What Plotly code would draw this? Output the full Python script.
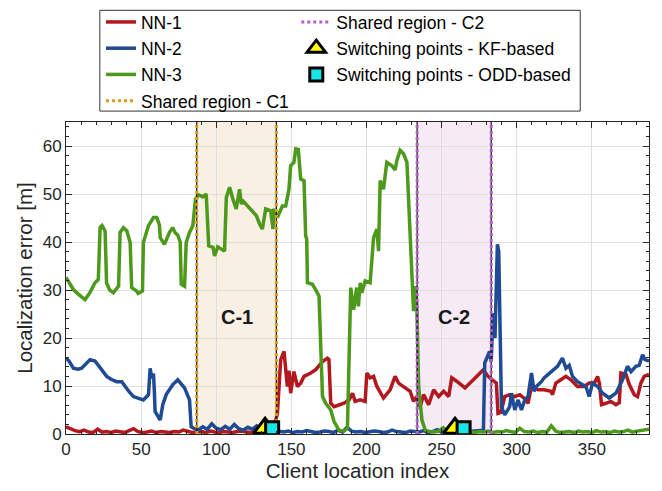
import plotly.graph_objects as go

# ---- data ----
# NN-1 (red): low noise up to index ~135, then rises after C1
nn1_low_x = list(range(0, 138, 3))
nn1_low_y = [1.5, 1.1, 0.7, 0.5, 0.8, 0.4, 0.3, 1.0, 0.4, 0.5,
             0.3, 0.6, 0.4, 0.3, 0.7, 1.1, 0.5, 0.3, 0.4, 0.6,
             0.3, 0.5, 0.4, 0.3, 0.5, 0.4, 0.8, 0.5, 0.3, 0.4,
             0.5, 0.3, 0.6, 0.4, 0.3, 0.5, 0.4, 0.3, 0.5, 0.6,
             0.4, 0.3, 0.5, 0.4, 0.6, 0.7]
nn1_hi_x = [138, 140.7, 142.9, 145.1, 147.3, 148.4, 149.5, 151.7, 154, 156.2,
            158.4, 162.9, 166.2, 170.7, 174, 175, 176.2, 178.4, 181.7, 185,
            188.4, 190.7, 192.4, 195.8, 199.1, 200.2, 202.4, 204.7, 206.9, 211.3,
            215.7, 219, 221.3, 225.7, 229, 231.3, 233.5, 235.7, 238, 241.3,
            244.7, 248, 251.3, 254.7, 256.7, 260, 265.5, 271.1, 277.8, 280.9,
            283.1, 286.4, 287.5, 289.5, 292, 295.3, 298.7, 302, 305, 307.5,
            309.8, 314.2, 318.2, 322.7, 323.8, 326, 329.3, 332.7, 336, 340.4,
            344.9, 348.2, 351.6, 353.8, 355, 356.4, 359.3, 362.6, 366, 368.2,
            369.3, 372.7, 374.9, 378.2, 380.4, 382.6, 384.8, 388]
nn1_hi_y = [0.8, 4.3, 15.5, 17.2, 9.9, 13.2, 8.5, 13, 9.9, 10.6,
            12, 12.7, 13.4, 15.1, 15.8, 15.5, 6.4, 5.7, 6.1, 6.4,
            7.1, 8.5, 6.8, 7.1, 6.8, 12.7, 11.7, 12.0, 9.9, 7.5,
            9.2, 12, 10.6, 9.6, 8.9, 6.8, 7.8, 5.7, 8.2, 6.1,
            9.2, 7.8, 8.9, 7.8, 11.7, 11, 9.6, 11.3, 13.4, 12,
            11.5, 10.6, 4.3, 4.5, 7.8, 8.2, 7.8, 8.2, 7.4, 6.4,
            9.9, 9.2, 9.2, 8.9, 8.2, 10.6, 11.3, 12, 11.3, 9.9,
            9.9, 10.6, 10.6, 12, 10.5, 6.1, 6.4, 6.8, 6.1, 6.5,
            12.7, 12.4, 10.3, 8.2, 7.8, 10.6, 12, 12.4]

# NN-2 (blue)
nn2_a_x = [0, 2, 4.9, 8, 10.4, 13, 16, 19.3, 23, 27.1,
           30, 33.7, 37.1, 39.3, 42, 44.9, 48.2, 51.5, 54.9, 56,
           57.1, 58.2, 58.8, 59.3, 62.7, 64.4, 66.7, 71.1, 74.4, 78.9,
           82.2, 83.3]
nn2_a_y = [15.8, 15.2, 13.7, 13.5, 13.7, 14.6, 15.5, 15.2, 13.8, 12,
           11.4, 10.9, 10.9, 9.9, 8.8, 7.8, 7.5, 7.1, 8.2, 13.7,
           11.6, 12.6, 9, 4.7, 2.9, 6.1, 8.2, 10.3, 11.3, 9.6,
           7.1, 1.5]
nn2_low_x = list(range(85, 277, 3))
nn2_low_y = [1.2, 0.8, 1.5, 1.0, 2.1, 1.2, 0.9, 1.6, 1.0, 2.0,
             1.1, 0.8, 1.4, 1.0, 1.7, 1.1, 0.9, 1.3, 0.7,
             0.5, 0.4, 0.6, 0.3, 0.5, 0.4, 0.7, 0.5, 0.3, 0.4,
             0.6, 0.5, 0.3, 0.8, 0.4, 1.4, 0.6, 0.4, 0.5, 0.3,
             0.4, 0.6, 0.5, 0.3, 0.4, 0.8, 0.5, 0.4, 0.3, 0.6,
             0.5, 0.4, 0.7, 0.3, 0.5, 0.9, 0.4, 0.6, 0.3, 0.5,
             0.4, 0.7, 0.5, 0.6, 0.8]
nn2_b_x = [277.8, 278.7, 281.9, 283, 284.2, 285.5, 287.1, 288, 289, 289.8,
           292, 295.3, 296.4, 298.7, 300.9, 303.1, 305.3, 307.5, 309.8, 311.5,
           313, 316.4, 318.2, 322.7, 327.1, 330.4, 332.7, 334.9, 337.1, 340.4,
           343.8, 346, 348.2, 350.4, 353.8, 357.1, 361.5, 366, 370.4, 373.7,
           376, 379.3, 381.5, 383.7, 385.3, 388]
nn2_b_y = [0.8, 14.8, 17.2, 15, 25.2, 20, 39.5, 38, 23.8, 5.7,
           4, 5.7, 8.5, 5.0, 7.1, 5, 7.1, 7.8, 12.7, 8.9,
           9.9, 10.9, 11.7, 13, 14.1, 15.8, 13.7, 14.3, 12, 10.9,
           10.3, 9.9, 7.8, 10.6, 9.9, 8.5, 7.5, 8.5, 11.3, 14.1,
           13, 14.1, 14.3, 16.5, 15.5, 15.2]

# NN-3 (green)
nn3_a_x = [0, 4.9, 8, 12.7, 16, 19.3, 21.5, 22.7, 24, 26,
           27, 29, 31.5, 35, 36, 38.2, 40.5, 42.7, 43.7, 47,
           48, 50.9, 51.5, 54.9, 58.2, 60.4, 62.2, 62.7, 65.5, 68.9,
           71, 72.5, 74.4, 76, 76.7, 78.9, 80, 82.2, 84.4, 86.2,
           88.4, 91, 93.3, 95, 97.8, 98.9, 101, 105.5, 106.7, 108.9,
           111, 113.3, 115.5, 116.7, 118, 123.3, 126.7, 128.9, 130.7, 132.9,
           136.2, 137.8, 138.2, 140.7, 144, 146.2, 148.4, 149.5, 151.7, 152.9,
           154.6, 156.2, 158.4, 159.5, 160.2, 160.7, 164, 167.3, 168.4, 170.7,
           172.9, 176.2, 178.4, 181.7, 185, 187.3, 189.5, 191.4, 193.5, 194.6,
           195.8, 196.9, 199.1, 202.4, 204.7, 206.9, 208, 209.1, 211.3, 213.5,
           216.9, 219, 220.2, 222.4, 224.6, 226.9, 230.2, 231.3, 232.5, 233.5,
           234.7, 236.9, 239.1]
nn3_a_y = [32.6, 30.1, 29.2, 28, 29.5, 31.5, 32.2, 43, 43.4, 42.3,
           31.5, 30, 29.4, 30.8, 42, 43, 42.3, 39.9, 30.5, 29.8,
           29.3, 29.8, 39.9, 43.4, 45.1, 45.1, 43.5, 40.9, 39.5, 42,
           43, 42, 41.4, 40, 31.2, 30.8, 39.9, 42, 43.4, 49,
           49.8, 49.4, 50, 39.2, 38.9, 37.1, 39, 38.1, 49.3, 51.4,
           49, 46.9, 51, 47.9, 48.5, 46.5, 45.5, 43.7, 42.7, 46.9,
           46.5, 42.7, 46.9, 45.1, 47.5, 47.5, 51, 55.9, 56.6, 59.4,
           59.3, 53.1, 52.8, 41.3, 40.6, 31.5, 31.2, 29.4, 28.7, 7.8,
           6.4, 5.0, 2.6, 0.8, 0.6, 1.2, 30.5, 25.9, 30.5, 26.6,
           31.5, 29.4, 31.9, 31.5, 40.9, 42.7, 38.1, 52.8, 51, 56.6,
           55.9, 55, 57, 59.1, 58.4, 56.6, 32.2, 25.6, 30.8, 26.6,
           9.9, 2.9, 0.8]
nn3_low_x = list(range(242, 389, 3)) + [388]
nn3_low_y = [0.5, 0.4, 0.6, 1.3, 0.5, 0.4, 0.3, 0.6, 0.5, 0.4,
             0.3, 0.5, 0.4, 0.6, 0.3, 0.5, 0.4, 0.7, 0.5, 0.3,
             1.2, 0.5, 0.4, 0.6, 0.3, 0.5, 0.4, 1.7, 0.6, 0.3,
             0.4, 0.5, 0.3, 0.6, 0.4, 0.5, 0.3, 0.7, 0.4, 0.5,
             0.3, 0.6, 0.4, 0.5, 0.8, 0.4, 0.6, 0.7, 0.9, 1.0]

region_c1 = [87, 140]
region_c2 = [233.7, 283]
kf_x = [132.5, 258.9]
kf_y = [1.2, 1.2]
odd_x = [137.2, 264.6]
odd_y = [1.2, 1.2]

nn1_x, nn1_y = nn1_low_x + nn1_hi_x, nn1_low_y + nn1_hi_y
nn2_x, nn2_y = nn2_a_x + nn2_low_x + nn2_b_x, nn2_a_y + nn2_low_y + nn2_b_y
nn3_x, nn3_y = nn3_a_x + nn3_low_x, nn3_a_y + nn3_low_y
assert len(nn1_x) == len(nn1_y) and len(nn2_x) == len(nn2_y) and len(nn3_x) == len(nn3_y)

YMAX = 65
FONT = "Liberation Sans, Arial, sans-serif"

fig = go.Figure()

# shaded regions
fig.add_shape(type="rect", xref="x", yref="y", x0=region_c1[0], x1=region_c1[1],
              y0=0, y1=YMAX, fillcolor="#F8F0E2", line_width=0, layer="below")
fig.add_shape(type="rect", xref="x", yref="y", x0=region_c2[0], x1=region_c2[1],
              y0=0, y1=YMAX, fillcolor="#F6EAF5", line_width=0, layer="below")

fig.add_trace(go.Scatter(x=nn1_x, y=nn1_y, mode="lines", name="NN-1", legendgroup="a",
                         line=dict(color="#B2181E", width=3.5), legend="legend", legendrank=1))
fig.add_trace(go.Scatter(x=nn2_x, y=nn2_y, mode="lines", name="NN-2", legendgroup="b",
                         line=dict(color="#1F4A94", width=3.5), legend="legend", legendrank=2))
fig.add_trace(go.Scatter(x=nn3_x, y=nn3_y, mode="lines", name="NN-3", legendgroup="c",
                         line=dict(color="#4C991C", width=3.5), legend="legend", legendrank=3))

# region boundaries: thin black line with dotted coloured line on top
for reg, col, name, rank, lg, grp in [(region_c1, "#DC9A14", "Shared region - C1", 4, "legend", "d"),
                                      (region_c2, "#B45CCB", "Shared region - C2", 1, "legend2", "e")]:
    bx = [reg[0], reg[0], None, reg[1], reg[1]]
    by = [0, YMAX, None, 0, YMAX]
    fig.add_trace(go.Scatter(x=bx, y=by, mode="lines", showlegend=False, hoverinfo="skip",
                             line=dict(color="#222222", width=1.3)))
    fig.add_trace(go.Scatter(x=bx, y=by, mode="lines", name=name, legend=lg, legendrank=rank,
                             legendgroup=grp, line=dict(color=col, width=3, dash="dot")))

fig.add_trace(go.Scatter(x=kf_x, y=kf_y, mode="markers", name="Switching points - KF-based",
                         legend="legend2", legendrank=2, legendgroup="f",
                         marker=dict(symbol="triangle-up", size=20, color="#FFFF00",
                                     line=dict(color="black", width=3))))
fig.add_trace(go.Scatter(x=odd_x, y=odd_y, mode="markers", name="Switching points - ODD-based",
                         legend="legend2", legendrank=3, legendgroup="g",
                         marker=dict(symbol="square", size=13, color="#19E6E6",
                                     line=dict(color="black", width=3))))

fig.add_annotation(x=sum(region_c1) / 2, y=24.3, text="<b>C-1</b>", showarrow=False,
                   font=dict(size=20, color="#1a1a1a", family=FONT))
fig.add_annotation(x=sum(region_c2) / 2, y=24.3, text="<b>C-2</b>", showarrow=False,
                   font=dict(size=20, color="#1a1a1a", family=FONT))

# legend frame
fig.add_shape(type="rect", xref="paper", yref="paper", x0=0.058, x1=0.882, y0=1.035, y1=1.358,
              line=dict(color="#333333", width=1), fillcolor="white", layer="below")

legend_style = dict(bgcolor="rgba(0,0,0,0)", borderwidth=0, font=dict(size=17.5, color="black", family=FONT),
                    yanchor="top", xanchor="left", tracegroupgap=0.5, itemwidth=30, yref="paper")

axis_common = dict(showline=True, linecolor="#262626", linewidth=1, mirror="ticks",
                   ticks="inside", ticklen=6, tickcolor="#262626",
                   showgrid=True, gridcolor="#DFDFDF", gridwidth=1, zeroline=False,
                   tickfont=dict(size=17, color="#262626", family=FONT),
                   minor=dict(ticks="inside", ticklen=3, tickcolor="#262626", showgrid=False))

# the page body adds an 8px offset, so the figure is sized/margined to compensate
fig.update_layout(
    width=654, height=483,
    margin=dict(l=58, r=13, t=114, b=57, autoexpand=False),
    plot_bgcolor="white", paper_bgcolor="white",
    font=dict(family=FONT, color="#262626"),
    xaxis=dict(range=[0, 388], tickvals=[0, 50, 100, 150, 200, 250, 300, 350],
               title=dict(text="Client location index", font=dict(size=20.5, color="#262626"), standoff=2),
               **{**axis_common, "minor": dict(axis_common["minor"], dtick=10, tick0=0)}),
    yaxis=dict(range=[0, YMAX], tickvals=[0, 10, 20, 30, 40, 50, 60],
               title=dict(text="Localization error [m]", font=dict(size=20.5, color="#262626"), standoff=4),
               **{**axis_common, "minor": dict(axis_common["minor"], dtick=2, tick0=0)}),
    legend=dict(x=0.06, y=1.378, **legend_style),
    legend2=dict(x=0.395, y=1.378, **legend_style),
)

fig.write_html("out.html")
